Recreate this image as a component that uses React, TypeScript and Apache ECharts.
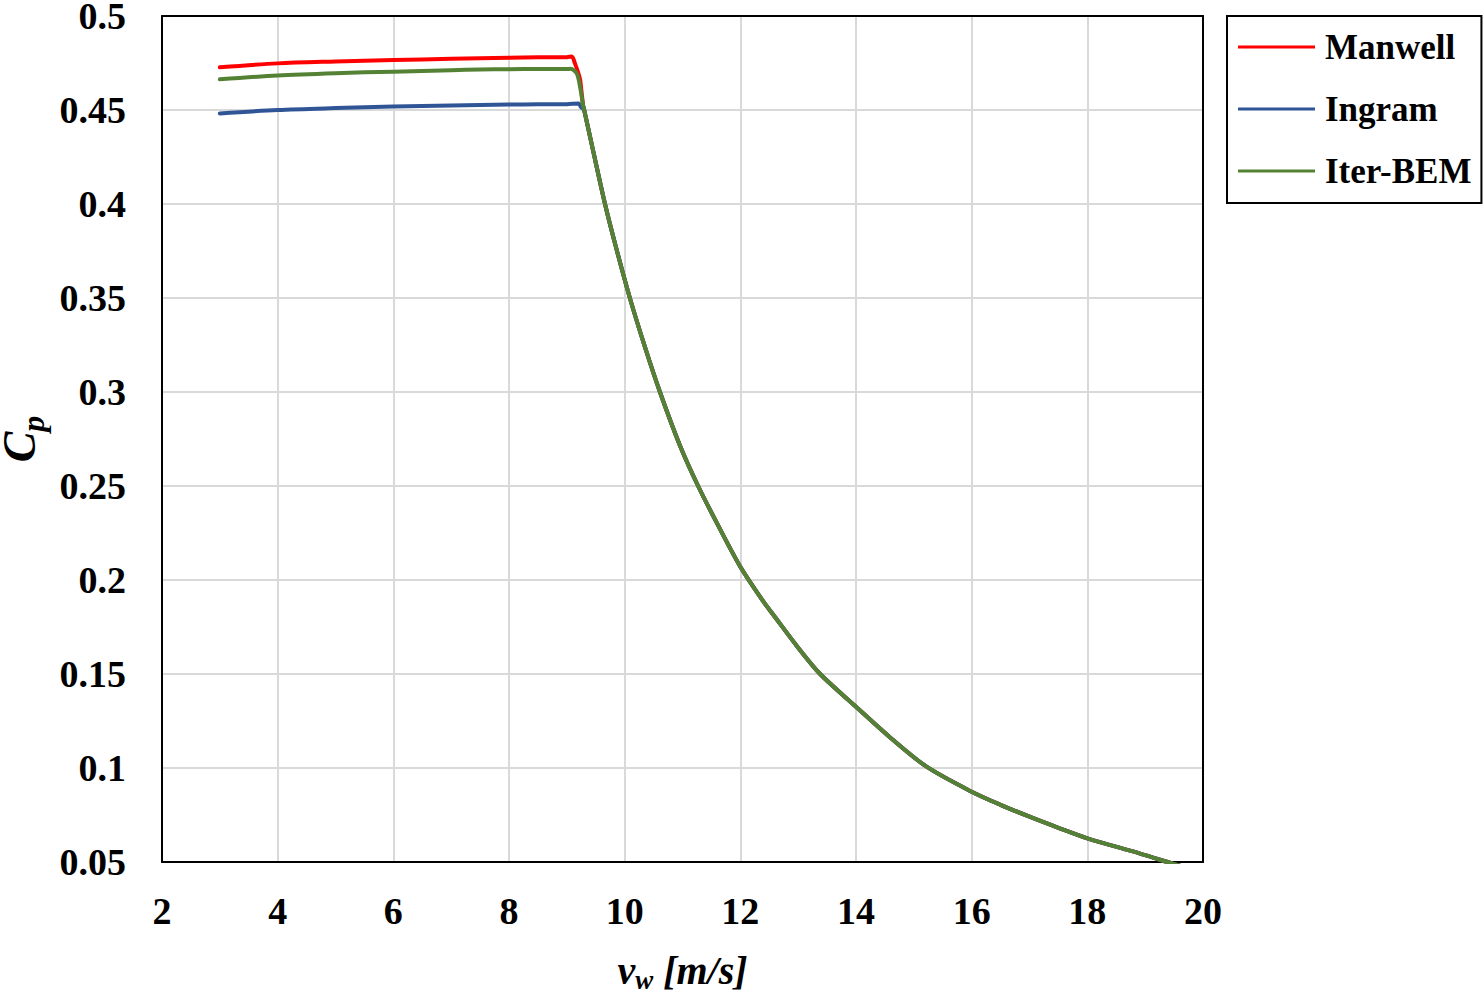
import React, { useEffect, useRef } from "react";
import * as echarts from "echarts";

// Wind speed v_w [m/s] and power coefficient Cp
const manwellV = [3, 4, 5, 6, 7, 7.5, 8, 8.5, 9.0, 9.085, 9.14, 9.2, 9.23, 9.26];
const manwellCp = [0.4727, 0.4748, 0.4758, 0.4766, 0.4772, 0.4775, 0.4778, 0.478, 0.4781, 0.4785, 0.4748, 0.4695, 0.466, 0.458];

const ingramV = [3, 4, 5, 6, 7, 7.5, 8, 8.5, 9.0, 9.2, 9.26];
const ingramCp = [0.4482, 0.45, 0.451, 0.4518, 0.4524, 0.4527, 0.4529, 0.453, 0.4531, 0.4535, 0.4509];

const iterV = [3, 4, 5, 6, 7, 7.5, 8, 8.5, 9.0, 9.064, 9.171, 9.228];
const iterCp = [0.4663, 0.4684, 0.4696, 0.4704, 0.4712, 0.4716, 0.4717, 0.4718, 0.4718, 0.4719, 0.4695, 0.4624];

// shared power-limited tail (all three models coincide)
const tailV = [9.285, 9.3, 9.45, 9.66, 9.85, 10.09, 10.35, 10.61, 10.95, 11.27, 11.6, 12.0, 12.4, 12.57, 13.0, 13.38, 14.0, 14.6, 15.22, 16.0, 16.5, 17.0, 17.5, 18.0, 18.9, 19.49, 19.6];
const tailCp = [0.4518, 0.45, 0.429, 0.4, 0.377, 0.35, 0.324, 0.3, 0.272, 0.25, 0.23, 0.2071, 0.1885, 0.1815, 0.164, 0.15, 0.1326, 0.116, 0.1007, 0.0874, 0.0804, 0.0741, 0.0682, 0.0626, 0.0546, 0.049, 0.048];

const seriesNames = ["Manwell", "Ingram", "Iter-BEM"];
const seriesColors = ["#FF0000", "#2F5597", "#548235"];

const xTicks = { min: 2, max: 20, interval: 2 };
const yTicks = { min: 0.05, max: 0.5, interval: 0.05 };

const pairs = (v: number[], c: number[]) => v.map((x, i) => [x, c[i]]);

const FONT = "'Liberation Serif', 'Times New Roman', serif";

const frameAxis = {
  type: "value",
  axisLine: { show: true, onZero: false, lineStyle: { color: "#000000", width: 2 } },
  axisTick: { show: false },
  axisLabel: { show: false },
  splitLine: { show: false },
};

export default function App() {
  const ref = useRef<HTMLDivElement>(null);

  useEffect(() => {
    if (!ref.current) return;
    const chart = echarts.init(ref.current, undefined, { renderer: "svg" });

    const heads = [
      pairs(manwellV, manwellCp),
      pairs(ingramV, ingramCp),
      pairs(iterV, iterCp),
    ];
    const tail = pairs(tailV, tailCp);

    chart.setOption({
      animation: false,
      backgroundColor: "#ffffff",
      grid: {
        left: 162,
        top: 16,
        width: 1041,
        height: 846,
        containLabel: false,
        outerBoundsMode: "none",
      },
      legend: {
        orient: "vertical",
        left: 1227,
        top: 16,
        padding: [11, 10, 12, 11],
        itemGap: 22,
        itemWidth: 77,
        itemHeight: 3,
        icon: "rect",
        borderColor: "#000000",
        borderWidth: 2,
        backgroundColor: "#ffffff",
        textStyle: {
          fontFamily: FONT,
          fontWeight: "bold",
          fontSize: 35,
          color: "#000000",
          lineHeight: 40,
          padding: [0, 0, 0, 5],
        },
        data: seriesNames,
      },
      xAxis: [
        {
          type: "value",
          min: xTicks.min,
          max: xTicks.max,
          interval: xTicks.interval,
          axisLine: { show: true, onZero: false, lineStyle: { color: "#000000", width: 2 } },
          axisTick: { show: false },
          splitLine: { show: true, lineStyle: { color: "#d9d9d9", width: 2 } },
          axisLabel: {
            margin: 30,
            fontFamily: FONT,
            fontWeight: "bold",
            fontSize: 38,
            color: "#000000",
          },
          name: "{v|v}{s|w}{v| [m/s]}",
          nameLocation: "middle",
          nameGap: 88,
          nameTextStyle: {
            rich: {
              v: {
                fontFamily: FONT,
                fontStyle: "italic",
                fontWeight: "bold",
                fontSize: 40,
                lineHeight: 40,
                verticalAlign: "top",
                color: "#000000",
              },
              s: {
                fontFamily: FONT,
                fontStyle: "italic",
                fontWeight: "bold",
                fontSize: 27,
                lineHeight: 27,
                padding: [16, 0, 0, 0],
                verticalAlign: "top",
                color: "#000000",
              },
            },
          },
        },
        { ...frameAxis, position: "top", min: xTicks.min, max: xTicks.max, interval: xTicks.interval },
      ],
      yAxis: [
        {
          type: "value",
          min: yTicks.min,
          max: yTicks.max,
          interval: yTicks.interval,
          axisLine: { show: true, onZero: false, lineStyle: { color: "#000000", width: 2 } },
          axisTick: { show: false },
          splitLine: { show: true, lineStyle: { color: "#d9d9d9", width: 2 } },
          axisLabel: {
            margin: 36,
            fontFamily: FONT,
            fontWeight: "bold",
            fontSize: 38,
            color: "#000000",
            formatter: (v: number) => String(parseFloat(v.toFixed(2))),
          },
          name: "{c|C}{p|p}",
          nameLocation: "middle",
          nameGap: 110,
          nameRotate: 90,
          nameTextStyle: {
            rich: {
              c: {
                fontFamily: FONT,
                fontStyle: "italic",
                fontWeight: "bold",
                fontSize: 46,
                lineHeight: 46,
                verticalAlign: "top",
                color: "#000000",
              },
              p: {
                fontFamily: FONT,
                fontStyle: "italic",
                fontWeight: "bold",
                fontSize: 32,
                lineHeight: 32,
                padding: [20, 0, 0, 0],
                verticalAlign: "top",
                color: "#000000",
              },
            },
          },
        },
        { ...frameAxis, position: "right", min: yTicks.min, max: yTicks.max, interval: yTicks.interval },
      ],
      series: seriesNames.map((name, i) => ({
        name,
        type: "line",
        xAxisIndex: 0,
        yAxisIndex: 0,
        data: heads[i].concat(tail),
        showSymbol: false,
        symbol: "none",
        clip: true,
        smooth: 0.3,
        color: seriesColors[i],
        lineStyle: { color: seriesColors[i], width: 4, join: "round", cap: "round" },
        z: 2 + i,
      })),
    });

    return () => chart.dispose();
  }, []);

  return (
    <div
      ref={ref}
      style={{ position: "fixed", left: 0, top: 0, width: 1484, height: 997, background: "#fff" }}
    />
  );
}
